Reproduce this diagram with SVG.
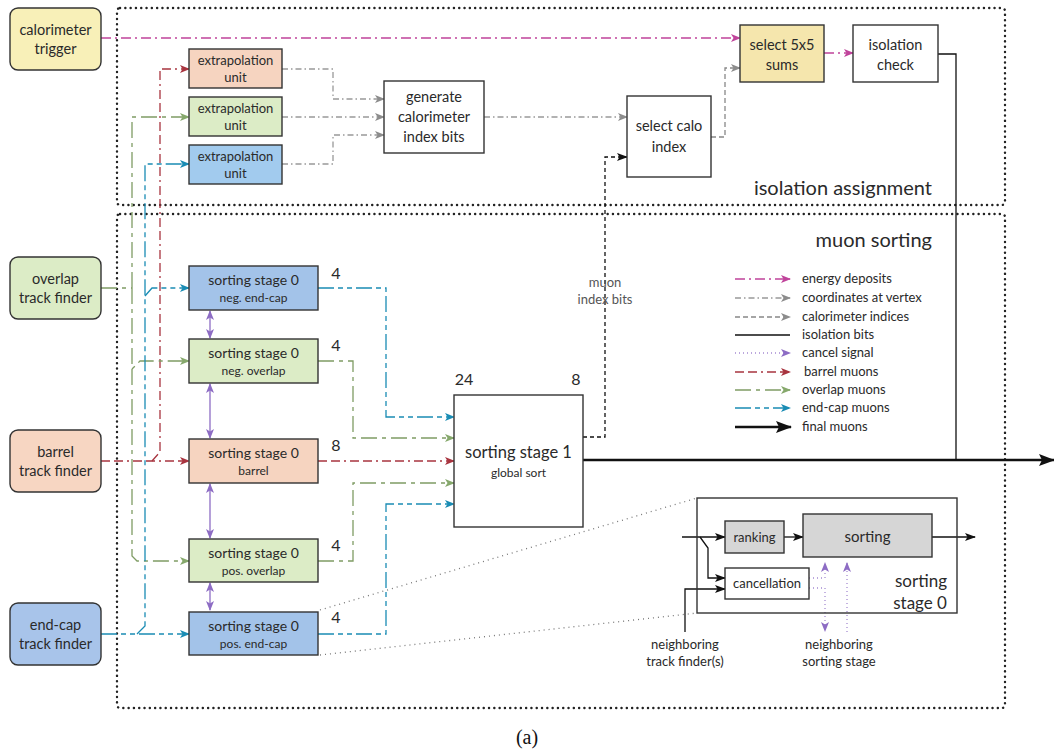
<svg xmlns="http://www.w3.org/2000/svg" width="1054" height="754" viewBox="0 0 1054 754">
<defs>
<style>
text{font-family:Lato,"Liberation Sans",sans-serif;fill:#2a2a2a;text-anchor:middle}
.b{stroke:#333;stroke-width:1.4}
.src{stroke:#333;stroke-width:1.4}
.grp{fill:none;stroke:#222;stroke-width:2.4;stroke-dasharray:0.1 5.2;stroke-linecap:round}
.c{fill:none;stroke-width:1.3}
.mag{stroke:#c0439b;stroke-dasharray:10 4 2 4;marker-end:url(#am)}
.crd{stroke:#999;stroke-dasharray:6 3 1.5 3;marker-end:url(#ag)}
.idx{stroke:#888;stroke-dasharray:5 3;marker-end:url(#ag)}
.red{stroke:#a8343f;stroke-dasharray:9 4 9 4 2 4}
.grn{stroke:#7f9c64;stroke-dasharray:16 5 4 5}
.blu{stroke:#1a8cb4;stroke-dasharray:16 4 5 4 5 4}
.pur{stroke:#8d6cc4;stroke-width:1.3;fill:none;marker-start:url(#ap);marker-end:url(#ap)}
.cnl{stroke:#a58bd2;stroke-dasharray:1 3;fill:none;stroke-width:1.3;marker-end:url(#ap)}
.zm{stroke:#777;stroke-dasharray:1 4;fill:none;stroke-width:1.3}
.blk{stroke:#111;stroke-width:1.3;fill:none;marker-end:url(#ak)}
.t12{font-size:13px}
.t11{font-size:12px}
.t14{font-size:14.5px}
.t13{font-size:14px}
.num{font-size:16px}
.lg{font-size:13px;text-anchor:start}
</style>
<marker id="am" markerUnits="userSpaceOnUse" markerWidth="10" markerHeight="8" refX="9" refY="4" orient="auto"><path d="M0,0 L10,4 L0,8 L2.5,4 Z" fill="#c0439b"/></marker>
<marker id="ag" markerUnits="userSpaceOnUse" markerWidth="10" markerHeight="8" refX="9" refY="4" orient="auto"><path d="M0,0 L10,4 L0,8 L2.5,4 Z" fill="#8c8c8c"/></marker>
<marker id="ar" markerUnits="userSpaceOnUse" markerWidth="10" markerHeight="8" refX="9" refY="4" orient="auto"><path d="M0,0 L10,4 L0,8 L2.5,4 Z" fill="#a8343f"/></marker>
<marker id="agr" markerUnits="userSpaceOnUse" markerWidth="10" markerHeight="8" refX="9" refY="4" orient="auto"><path d="M0,0 L10,4 L0,8 L2.5,4 Z" fill="#86a86c"/></marker>
<marker id="ab" markerUnits="userSpaceOnUse" markerWidth="10" markerHeight="8" refX="9" refY="4" orient="auto"><path d="M0,0 L10,4 L0,8 L2.5,4 Z" fill="#1a8cb4"/></marker>
<marker id="ap" markerUnits="userSpaceOnUse" markerWidth="10" markerHeight="8" refX="9" refY="4" orient="auto-start-reverse"><path d="M0,0 L10,4 L0,8 L2.5,4 Z" fill="#8d6cc4"/></marker>
<marker id="ak" markerUnits="userSpaceOnUse" markerWidth="11" markerHeight="8" refX="10" refY="4" orient="auto"><path d="M0,0 L11,4 L0,8 L2.5,4 Z" fill="#111"/></marker>
<marker id="akb" markerUnits="userSpaceOnUse" markerWidth="16" markerHeight="12" refX="15" refY="6" orient="auto"><path d="M0,0 L16,6 L0,12 L3,6 Z" fill="#111"/></marker>
</defs>
<rect width="1054" height="754" fill="#fff"/>

<g id="groups">
<rect class="grp" x="117" y="8" width="888" height="197" rx="3"/>
<rect class="grp" x="117" y="214" width="888" height="494" rx="3"/>
<text x="932" y="195" style="font-size:20px;text-anchor:end">isolation assignment</text>
<text x="932" y="247" style="font-size:20px;text-anchor:end">muon sorting</text>
</g>

<g id="connectors">
<path class="c mag" d="M101,38 H740"/>
<path class="c mag" d="M824,53 H853"/>
<path class="c crd" d="M282,69 H333 V99 H384"/>
<path class="c crd" d="M282,117 H384"/>
<path class="c crd" d="M282,164 H333 V135 H384"/>
<path class="c crd" d="M484,117 H627"/>
<path class="c idx" d="M711,137 H725 V68 H740"/>
<path class="c" stroke="#111" stroke-dasharray="4 3" marker-end="url(#ak)" d="M583,437 H605 V157 H627"/>
<path class="c" stroke="#111" d="M938,54 H956 V460"/>
<path class="c red" marker-end="url(#ar)" d="M101,461 H189"/>
<path class="c red" marker-end="url(#ar)" d="M152,461 L160,452 V69 H189"/>
<path class="c grn" d="M101,288 H132"/>
<path class="c grn" marker-end="url(#agr)" d="M132,288 V117 H189"/>
<path class="c grn" marker-end="url(#agr)" d="M132,288 V369 L140,361 H189"/>
<path class="c grn" marker-end="url(#agr)" d="M132,369 V556 L137,561 H189"/>
<path class="c blu" marker-end="url(#ab)" d="M101,634 H189"/>
<path class="c blu" marker-end="url(#ab)" d="M137,634 L145,626 V164 H189"/>
<path class="c blu" marker-end="url(#ab)" d="M145,296 L152,288 H189"/>
<path class="c blu" marker-end="url(#ab)" d="M318,288 H386 V417 H454"/>
<path class="c grn" marker-end="url(#agr)" d="M318,361 H353 V438 H454"/>
<path class="c red" marker-end="url(#ar)" d="M318,461 H454"/>
<path class="c grn" marker-end="url(#agr)" d="M318,561 H353 V483 H454"/>
<path class="c blu" marker-end="url(#ab)" d="M318,634 H386 V504 H454"/>
<path class="pur" d="M210,311 V338"/>
<path class="pur" d="M210,384 V438"/>
<path class="pur" d="M210,484 V538"/>
<path class="pur" d="M210,583 V610"/>
<path fill="none" stroke="#111" stroke-width="2.5" marker-end="url(#akb)" d="M583,460 H1054"/>
<path class="zm" d="M320,610 L697,498"/>
<path class="zm" d="M320,655 L697,613"/>
<path class="blk" d="M682,537 H725"/>
<path class="blk" d="M700,537 L708,548 V578 H725"/>
<path class="blk" d="M685,632 V589 H725"/>
<path class="blk" d="M784,537 H803"/>
<path class="blk" d="M932,537 H975"/>
<path class="cnl" d="M809,578 H825 V563"/>
<path class="cnl" d="M809,588 H825 V631"/>
<path class="cnl" d="M847,632 V563"/>
</g>

<g id="calorimeter-trigger"><rect class="src" x="10" y="8" width="91" height="62" rx="8" fill="#f8f0b8"/><text class="t14" x="55.5" y="35">calorimeter</text><text class="t14" x="55.5" y="54">trigger</text></g>
<g id="overlap-track-finder"><rect class="src" x="10" y="257" width="91" height="62" rx="8" fill="#dcecc6"/><text class="t14" x="55.5" y="284">overlap</text><text class="t14" x="55.5" y="303">track finder</text></g>
<g id="barrel-track-finder"><rect class="src" x="10" y="430" width="91" height="62" rx="8" fill="#f7d6c2"/><text class="t14" x="55.5" y="457">barrel</text><text class="t14" x="55.5" y="476">track finder</text></g>
<g id="endcap-track-finder"><rect class="src" x="10" y="603" width="91" height="62" rx="8" fill="#a8c4ea"/><text class="t14" x="55.5" y="630">end-cap</text><text class="t14" x="55.5" y="649">track finder</text></g>

<g id="extrap-barrel"><rect class="b" x="189" y="49" width="93" height="39" fill="#f6d4c0"/><text class="t12" x="235.5" y="65">extrapolation</text><text class="t12" x="235.5" y="82">unit</text></g>
<g id="extrap-overlap"><rect class="b" x="189" y="97" width="93" height="39" fill="#dcecc6"/><text class="t12" x="235.5" y="113">extrapolation</text><text class="t12" x="235.5" y="130">unit</text></g>
<g id="extrap-endcap"><rect class="b" x="189" y="145" width="93" height="39" fill="#a2cbee"/><text class="t12" x="235.5" y="161">extrapolation</text><text class="t12" x="235.5" y="178">unit</text></g>

<g id="generate-index"><rect class="b" x="384" y="81" width="100" height="72" fill="#fff"/><text class="t14" x="434" y="102">generate</text><text class="t14" x="434" y="122">calorimeter</text><text class="t14" x="434" y="142">index bits</text></g>
<g id="select-calo-index"><rect class="b" x="627" y="96" width="84" height="81" fill="#fff"/><text class="t14" x="669" y="131">select calo</text><text class="t14" x="669" y="152">index</text></g>
<g id="select-sums"><rect class="b" x="740" y="25" width="84" height="57" fill="#f5e6ad"/><text class="t14" x="782" y="50">select 5x5</text><text class="t14" x="782" y="70">sums</text></g>
<g id="isolation-check"><rect class="b" x="853" y="25" width="85" height="57" fill="#fff"/><text class="t14" x="895.5" y="50">isolation</text><text class="t14" x="895.5" y="70">check</text></g>

<g id="ss0-neg-endcap"><rect class="b" x="189" y="266" width="129" height="44" fill="#a3c3e9"/><text class="t13" x="253.5" y="285">sorting stage 0</text><text class="t11" x="253.5" y="302">neg. end-cap</text><text class="num" x="336" y="279">4</text></g>
<g id="ss0-neg-overlap"><rect class="b" x="189" y="339" width="129" height="44" fill="#dcecc6"/><text class="t13" x="253.5" y="358">sorting stage 0</text><text class="t11" x="253.5" y="375">neg. overlap</text><text class="num" x="336" y="351">4</text></g>
<g id="ss0-barrel"><rect class="b" x="189" y="439" width="129" height="44" fill="#f6d4c0"/><text class="t13" x="253.5" y="458">sorting stage 0</text><text class="t11" x="253.5" y="475">barrel</text><text class="num" x="336" y="451">8</text></g>
<g id="ss0-pos-overlap"><rect class="b" x="189" y="539" width="129" height="43" fill="#dcecc6"/><text class="t13" x="253.5" y="558">sorting stage 0</text><text class="t11" x="253.5" y="575">pos. overlap</text><text class="num" x="336" y="551">4</text></g>
<g id="ss0-pos-endcap"><rect class="b" x="189" y="612" width="129" height="43" fill="#a3c3e9"/><text class="t13" x="253.5" y="631">sorting stage 0</text><text class="t11" x="253.5" y="648">pos. end-cap</text><text class="num" x="336" y="623">4</text></g>

<g id="ss1"><rect class="b" x="454" y="395" width="129" height="132" fill="#fff"/><text x="518.5" y="458" style="font-size:16.5px">sorting stage 1</text><text class="t11" x="518.5" y="477">global sort</text><text class="num" x="464" y="385">24</text><text class="num" x="576" y="385">8</text></g>
<g id="muon-index-label"><text class="t12" x="605" y="287" style="fill:#555">muon</text><text class="t12" x="605" y="304" style="fill:#555">index bits</text></g>

<g id="legend">
<path class="c mag" d="M735,279 H790"/>
<path class="c crd" d="M735,298 H790"/>
<path class="c idx" d="M735,317 H790"/>
<path class="c" stroke="#111" d="M735,335 H790"/>
<path class="cnl" d="M735,353 H790"/>
<path class="c red" marker-end="url(#ar)" d="M735,372 H790"/>
<path class="c grn" marker-end="url(#agr)" d="M735,390 H790"/>
<path class="c blu" marker-end="url(#ab)" d="M735,408 H790"/>
<path fill="none" stroke="#111" stroke-width="2.5" marker-end="url(#akb)" d="M735,427 H791"/>
<text class="lg" x="802" y="283">energy deposits</text>
<text class="lg" x="802" y="302">coordinates at vertex</text>
<text class="lg" x="802" y="321">calorimeter indices</text>
<text class="lg" x="802" y="339">isolation bits</text>
<text class="lg" x="802" y="357">cancel signal</text>
<text class="lg" x="804" y="376">barrel muons</text>
<text class="lg" x="802" y="394">overlap muons</text>
<text class="lg" x="802" y="412">end-cap muons</text>
<text class="lg" x="802" y="431">final muons</text>
</g>

<g id="detail">
<rect class="b" x="697" y="498" width="260" height="115" fill="none"/>
<text x="947" y="587" style="font-size:17px;text-anchor:end">sorting</text>
<text x="947" y="609" style="font-size:17px;text-anchor:end">stage 0</text>
</g>
<g id="ranking"><rect class="b" x="725" y="521" width="59" height="32" fill="#d6d6d6"/><text class="t12" x="754.5" y="542">ranking</text></g>
<g id="sorting"><rect class="b" x="803" y="514" width="129" height="43" fill="#d6d6d6"/><text x="867.5" y="542" style="font-size:15px">sorting</text></g>
<g id="cancellation"><rect class="b" x="725" y="568" width="84" height="31" fill="#fff"/><text class="t12" x="767" y="588">cancellation</text></g>
<g id="neighbor-labels">
<text class="t12" x="685" y="649">neighboring</text><text class="t12" x="685" y="666">track finder(s)</text>
<text class="t12" x="839" y="649">neighboring</text><text class="t12" x="839" y="666">sorting stage</text>
</g>
<text x="527" y="744" style="font-family:'Liberation Serif',serif;font-size:20px;fill:#111">(a)</text>
</svg>
